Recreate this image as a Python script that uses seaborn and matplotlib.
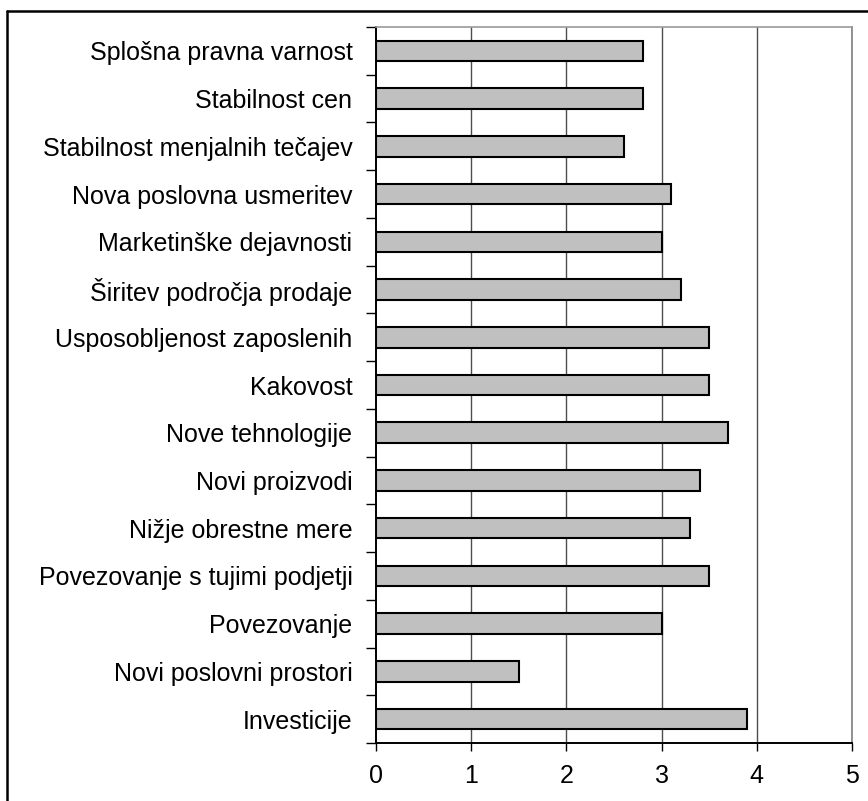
import matplotlib
matplotlib.use("Agg")
import matplotlib.pyplot as plt
from matplotlib.lines import Line2D
import seaborn as sns
import pandas as pd
import numpy as np

categories = [
    "Splošna pravna varnost",
    "Stabilnost cen",
    "Stabilnost menjalnih tečajev",
    "Nova poslovna usmeritev",
    "Marketinške dejavnosti",
    "Širitev področja prodaje",
    "Usposobljenost zaposlenih",
    "Kakovost",
    "Nove tehnologije",
    "Novi proizvodi",
    "Nižje obrestne mere",
    "Povezovanje s tujimi podjetji",
    "Povezovanje",
    "Novi poslovni prostori",
    "Investicije",
]
values = [2.8, 2.8, 2.6, 3.1, 3.0, 3.2, 3.5, 3.5, 3.7, 3.4, 3.3, 3.5, 3.0, 1.5, 3.9]
x_ticks = [0, 1, 2, 3, 4, 5]

df = pd.DataFrame({"kategorija": categories, "ocena": values})

sns.set_theme(style="white")
plt.rcParams["font.family"] = ["Liberation Sans", "DejaVu Sans"]

W, H = 868, 801
fig = plt.figure(figsize=(W / 100, H / 100), dpi=100)
ax = fig.add_axes([376 / W, 1 - 743 / H, (852 - 376) / W, (743 - 27) / H])

sns.barplot(
    data=df, x="ocena", y="kategorija", orient="h", ax=ax,
    color="#C0C0C0", saturation=1, edgecolor="black", linewidth=1.5,
    width=0.43, zorder=3,
)

ax.set_xlim(0, 5)
ax.set_ylim(len(categories) - 0.5, -0.5)
ax.set_xticks(x_ticks)
ax.set_xticklabels([str(t) for t in x_ticks])
ax.set_xlabel("")
ax.set_ylabel("")

# vertical gridlines at integer values
for t in x_ticks[1:]:
    ax.axvline(t, color="#4d4d4d", linewidth=1.0, zorder=1)

# tick marks between categories on the y axis
ax.set_yticks(np.arange(-0.5, len(categories), 1.0), minor=True)
ax.tick_params(axis="y", which="major", length=0, pad=17, labelsize=18, colors="black")
ax.tick_params(axis="y", which="minor", left=True, length=7, width=1.0, color="black")
ax.tick_params(axis="x", which="major", bottom=True, length=6, width=1.0, color="black",
               pad=9, labelsize=18, labelcolor="black")

for side in ["left", "bottom"]:
    ax.spines[side].set_visible(True)
    ax.spines[side].set_color("black")
    ax.spines[side].set_linewidth(1.4)
ax.spines["top"].set_color("#999999")
ax.spines["top"].set_linewidth(1.2)
ax.spines["right"].set_color("#808080")
ax.spines["right"].set_linewidth(1.2)

# outer frame around the chart (continues past the right and bottom edges)
fig.add_artist(Line2D([7 / W, 1.01], [1 - 11 / H, 1 - 11 / H], transform=fig.transFigure,
                      color="black", linewidth=1.8))
fig.add_artist(Line2D([7 / W, 7 / W], [1 - 11 / H, -0.01], transform=fig.transFigure,
                      color="black", linewidth=1.8))

fig.savefig("out.png", dpi=100, facecolor="white")
